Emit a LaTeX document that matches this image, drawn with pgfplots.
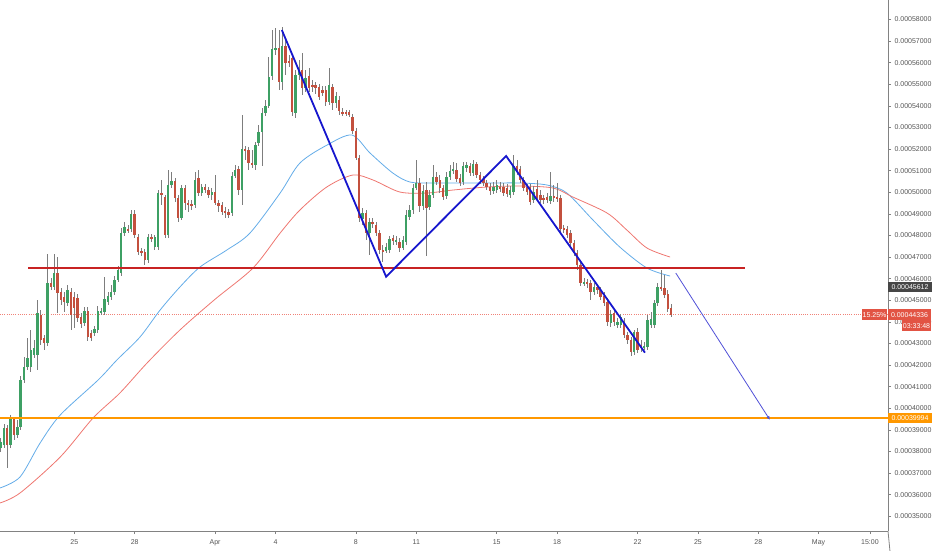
\documentclass[border=0pt]{standalone}
\usepackage{fontspec}
\setmainfont{Liberation Sans}
\usepackage{pgfplots}
\usepackage{pgfplotstable}
\pgfplotsset{compat=1.18}
\usetikzlibrary{arrows.meta}
\definecolor{upgreen}{RGB}{62,160,100}
\definecolor{downred}{RGB}{195,80,62}
\definecolor{wickgray}{RGB}{125,125,125}
\definecolor{maBlue}{RGB}{100,172,232}
\definecolor{maRed}{RGB}{238,118,112}
\definecolor{patBlue}{RGB}{22,22,205}
\definecolor{projBlue}{RGB}{80,80,215}
\definecolor{hRed}{RGB}{200,35,35}
\definecolor{orLine}{RGB}{255,152,0}
\definecolor{dotRed}{RGB}{240,130,120}
\definecolor{axisgray}{RGB}{130,130,130}
\definecolor{labelgray}{RGB}{85,85,85}
\definecolor{lblDark}{RGB}{70,70,70}
\definecolor{lblRed}{RGB}{226,84,68}
\newcommand{\lbl}{\fontsize{7}{8}\selectfont}

\pgfplotstableread{
k o h l c
-22 38161 38624 37975 38438
-21 38300 39272 38161 39087
-20 39087 39225 37235 38300
-19 38300 39688 38161 39503
-18 39503 39596 38531 38762
-17 38762 39457 38624 39133
-16 39133 41494 38994 41309
-15 41309 42374 41170 41911
-14 41911 43254 41772 42328
-13 41911 43624 41679 42698
-12 42466 43161 42328 42791
-11 42466 45013 41772 44411
-10 44318 44550 42929 43161
-9 43254 43392 42698 43022
-8 43022 47143 42883 45800
-7 45800 46032 45476 45615
-6 45615 47143 45476 46263
-5 46263 47004 44411 45337
-4 45383 45569 44781 45013
-3 45152 45383 44457 44920
-2 44874 45707 44735 45476
-1 45383 45569 43624 44318
0 45152 45383 43717 44643
1 45106 45291 43994 44180
2 44226 44411 43717 43902
3 43948 44689 43809 44504
4 44504 44689 43115 43300
5 43485 43624 43115 43254
6 43485 43809 43346 43670
7 43624 44735 43485 44504
8 44411 44643 44318 44504
9 44457 46078 44318 45059
10 44920 45383 44781 45198
11 45152 45707 45013 45383
12 45383 46124 45244 45939
13 45939 46587 45846 46402
14 46263 48347 46124 48115
15 48115 48624 47976 48393
16 48300 48485 48115 48254
17 48300 49180 48161 48995
18 48995 49180 47884 48022
19 47930 48069 47096 47235
20 47282 47421 47050 47189
21 47235 47374 46633 46865
22 46865 48069 46726 47930
23 47930 48069 47698 47837
24 47467 48022 47328 47930
25 47467 50106 47328 49967
26 49967 50569 49411 49874
27 49782 49874 47884 48022
28 48022 51032 47884 50337
29 50337 50939 50199 50523
30 50523 50662 49550 49736
31 49736 49874 48624 48810
32 48810 50337 48717 50199
33 50199 50337 49180 49504
34 49504 49643 49087 49411
35 49458 49643 49180 49365
36 49411 50939 49273 50569
37 50662 51032 49828 49967
38 49967 50384 49828 50245
39 50245 50384 49967 50106
40 50106 50245 49736 49874
41 49874 50199 49643 50013
42 50013 50800 49411 49504
43 49504 49643 49087 49365
44 49411 49550 48948 49087
45 49134 49319 48810 49041
46 49087 49226 48810 48948
47 49041 50939 48902 50754
48 50754 51263 50662 51032
49 51078 51217 49874 50106
50 50106 53578 49411 52004
51 52004 52143 51495 51912
52 51958 52097 51032 51356
53 51356 51958 51125 51263
54 51263 52328 51032 52189
55 52282 53115 52143 52791
56 52791 53903 51217 53671
57 53671 54273 53532 53995
58 53995 56264 53903 55338
59 55384 57514 55199 56634
60 56634 57607 56356 56681
61 56681 57514 54736 55106
62 55106 57653 54736 56773
63 56773 57051 55430 55986
64 56079 56356 55801 55986
65 56218 56356 53532 53717
66 53671 55662 53440 55430
67 55430 56125 55199 55662
68 55662 56449 54504 54829
69 54829 55662 54643 55292
70 55384 55755 54643 54829
71 54967 55199 54643 54875
72 54967 55106 54551 54829
73 54875 55014 54273 54412
74 54736 54921 54458 54597
75 54736 54921 53995 54180
76 54180 55755 54041 54967
77 54875 55014 53810 54134
78 54134 54643 53903 54458
79 54273 54458 53578 53764
80 53717 53903 53532 53671
81 53717 53810 53532 53671
82 53717 53810 53486 53578
83 53486 53625 52699 52838
84 52838 52977 51495 51588
85 51588 51726 48624 48810
86 48763 49273 48485 49041
87 49041 49180 47791 48115
88 48115 48810 47096 48624
89 48624 48810 48347 48532
90 48485 48624 47976 48115
91 48115 48254 47143 47328
92 47328 47559 46772 47282
93 47282 47652 47189 47467
94 47328 47976 47189 47837
95 47884 48022 47559 47745
96 47698 47976 47559 47791
97 47698 47884 47235 47421
98 47421 47976 47328 47791
99 47698 49180 47559 48948
100 48856 49411 48717 49180
101 49180 50384 48995 50199
102 50199 51495 50106 50430
103 50430 50662 49087 49365
104 49365 50337 49180 50060
105 50106 50476 47050 49273
106 49319 50106 49180 49874
107 49874 51263 49736 50708
108 50708 50939 50337 50476
109 50569 50800 49967 50199
110 50199 50337 49643 49782
111 49828 50939 49689 50708
112 50708 51263 50569 50986
113 50986 51402 50847 51078
114 51032 51356 50476 50615
115 50662 50847 50291 50430
116 50476 51402 50337 51217
117 51125 51402 50939 51263
118 51217 51356 50754 50893
119 50893 51495 50754 51310
120 51310 51402 50662 50800
121 50800 50939 50384 50569
122 50615 50754 50291 50430
123 50430 50569 50106 50245
124 50245 50430 49874 50060
125 50060 50476 49921 50245
126 50106 50569 49967 50337
127 50245 50476 50013 50152
128 50245 50430 49828 49967
129 50199 50384 49782 49921
130 49874 50291 49736 50106
131 50013 51726 49874 51217
132 51217 51495 50800 50939
133 51078 51217 50430 50569
134 50569 50708 50060 50199
135 50245 50384 49874 50013
136 50245 50384 49411 49550
137 49643 50291 49504 50013
138 50152 50569 49597 49736
139 49874 50106 49504 49643
140 49736 49874 49458 49643
141 49782 49967 49504 49643
142 49597 50939 49458 49828
143 49828 50337 49550 49736
144 49782 50430 49550 49689
145 49736 49874 48161 48300
146 48347 48485 48115 48254
147 48300 48439 47884 48022
148 48115 48254 47513 47652
149 47652 47791 47050 47189
150 47189 47328 46402 46633
151 46633 46772 45661 45800
152 45800 46032 45661 45846
153 45846 45985 45569 45754
154 45800 45939 45013 45383
155 45383 45800 45244 45615
156 45615 45754 45291 45476
157 45476 45615 45013 45152
158 45198 45383 44735 44874
159 44920 45106 43809 43994
160 43948 44550 43763 44365
161 44411 44550 43809 43994
162 43855 44180 43717 43994
163 43855 44365 43717 44226
164 43994 44180 43254 43392
165 43392 43531 42976 43161
166 43161 43300 42420 42605
167 42605 43624 42466 43531
168 43531 43717 42559 42698
169 42929 43161 42605 42791
170 42791 43068 42698 42883
171 42837 44318 42698 44087
172 43855 44457 43717 44133
173 43855 45013 43717 44874
174 44874 45800 44735 45615
175 45615 46402 45430 45569
176 45569 46170 45106 45244
177 45291 45476 44457 44596
178 44643 44828 44226 44336
}\candles

\begin{document}
\begin{tikzpicture}
\path[use as bounding box] (0,0) rectangle (932pt,550pt);
\begin{axis}[
  at={(0pt,19pt)}, anchor=south west,
  scale only axis, width=888pt, height=531pt,
  xmin=-22.16, xmax=242.7, ymin=34318, ymax=58903,
  clip=false,
  axis x line*=bottom, axis y line*=right,
  axis line style={draw=axisgray, line width=0.8pt},
  tick style={draw=axisgray, line width=0.6pt},
  tick align=outside, major tick length=3pt,
  ticklabel style={font=\lbl, text=labelgray},
  ytick={35000,36000,...,58000},
  yticklabels={0.00035000,0.00036000,0.00037000,0.00038000,0.00039000,0.00040000,0.00041000,0.00042000,0.00043000,0.00044000,0.00045000,0.00046000,0.00047000,0.00048000,0.00049000,0.00050000,0.00051000,0.00052000,0.00053000,0.00054000,0.00055000,0.00056000,0.00057000,0.00058000},
  xtick={0,18,42,60,84,102,126,144,168,186,204,222,237.3},
  xticklabels={25,28,Apr,4,8,11,15,18,22,25,28,May,15:00},
  xticklabel style={yshift=-2pt},
  candle/.style={draw=none, mark=none, unbounded coords=discard,
    error bars/y dir=both, error bars/y explicit, error bars/error mark=none},
]
% dotted last-price line
\addplot[dotRed, line width=0.6pt, dash pattern=on 1pt off 1.2pt] coordinates {(-22.16,44336) (242.7,44336)};
% moving averages
\addplot[maBlue, line width=0.8pt, smooth, tension=0.5] coordinates {
(-22.2,36309) (-16.2,36818) (-10.2,38392) (-4.2,39688) (7.1,41309) (12.7,42235) (19.6,43300) (25.6,44550) (31.5,45615) (37.5,46541) (45.5,47328) (52.4,48115) (61.4,49967) (67.3,51356) (75.4,52189) (82.8,52652) (88.2,51819) (95,50893) (100.1,50476) (107,50430) (123.1,50430) (132.9,50430) (141,50337) (146.9,49967) (154.7,48717) (162.7,47467) (170.8,46494) (177.7,46124)};
\addplot[maRed, line width=0.8pt, smooth, tension=0.5] coordinates {
(-22.2,35614) (-16.2,36077) (-4.2,37744) (5.6,39550) (13.6,40708) (21.7,42096) (31.5,43624) (42,45050) (53.3,46494) (61.4,48115) (67.3,49180) (75.3,50245) (83.1,50800) (89.1,50569) (97.1,50013) (105.2,49967) (113,50106) (123.1,50245) (132.9,50291) (142.8,50199) (148.7,49782) (158.9,49041) (164.8,48254) (170.8,47421) (177.7,47004)};
% wicks
\addplot[candle, error bars/error bar style={draw=wickgray, line width=0.6pt}]
  table[x=k, y expr={(\thisrow{h}+\thisrow{l})/2}, y error expr={(\thisrow{h}-\thisrow{l})/2}] {\candles};
% up bodies
\addplot[candle, restrict expr to domain={\thisrow{c}-\thisrow{o}}{0:100000},
  error bars/error bar style={draw=upgreen, line width=2.4pt}]
  table[x=k, y expr={(\thisrow{o}+\thisrow{c})/2}, y error expr={abs(\thisrow{c}-\thisrow{o})/2}] {\candles};
% down bodies
\addplot[candle, restrict expr to domain={\thisrow{o}-\thisrow{c}}{0:100000},
  error bars/error bar style={draw=downred, line width=2.4pt}]
  table[x=k, y expr={(\thisrow{o}+\thisrow{c})/2}, y error expr={abs(\thisrow{c}-\thisrow{o})/2}] {\candles};
% horizontal levels
\addplot[hRed, line width=1.2pt] coordinates {(-13.8,46494) (200,46494)};
\addplot[orLine, line width=1.8pt] coordinates {(-22.16,39550) (242.7,39550)};
% pattern
\addplot[patBlue, line width=1.8pt] coordinates {(61.9,57514) (93.0,46092) (128.8,51680) (170.2,42575)};
\addplot[projBlue, line width=0.8pt, -{Latex[length=4pt,width=3.5pt]}] coordinates {(179.4,46263) (207.5,39457)};
% right axis extension
\draw[axisgray, line width=0.8pt] (rel axis cs:1,0) -- ++(0,-19pt);
% price labels
\node[fill=lblDark, text=white, anchor=west, minimum height=10.5pt, minimum width=44pt, inner sep=0.5pt, outer sep=0pt, font=\lbl] at (axis cs:242.7,45612) {0.00045612};
\node[fill=lblRed, text=white, anchor=west, minimum height=10.5pt, minimum width=43pt, inner sep=0.5pt, outer sep=0pt, font=\lbl] at (axis cs:242.7,44336) {0.00044336};
\node[fill=lblRed, text=white, anchor=east, minimum height=10.5pt, minimum width=25pt, inner sep=0.5pt, outer sep=0pt, font=\lbl] at ([xshift=-1pt]axis cs:242.7,44336) {15.25\%};
\node[fill=lblRed, text=white, anchor=north east, minimum height=11pt, minimum width=29pt, inner sep=0.5pt, outer sep=0pt, font=\lbl] at ([xshift=43pt,yshift=-5.5pt]axis cs:242.7,44336) {03:33:48};
\node[fill=orLine, text=white, anchor=west, minimum height=10.5pt, minimum width=44pt, inner sep=0.5pt, outer sep=0pt, font=\lbl] at (axis cs:242.7,39550) {0.00039994};
\end{axis}
\end{tikzpicture}
\end{document}
